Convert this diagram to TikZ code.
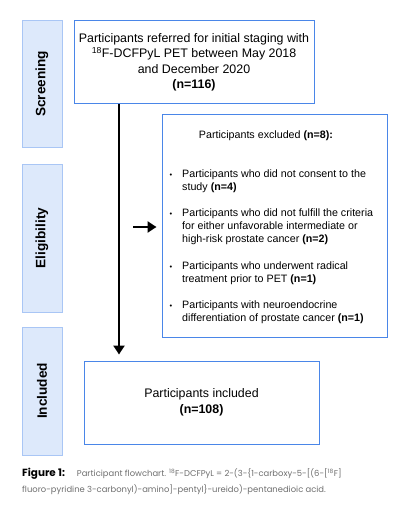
\documentclass[tikz,border=0pt]{standalone}
\usepackage{fontspec}
\setmainfont{Liberation Sans}
\newfontfamily\capfont{Poppins}
\usetikzlibrary{arrows.meta,positioning}
\definecolor{sidefill}{HTML}{DDE9FB}
\definecolor{sidedraw}{HTML}{A9C6F5}
\definecolor{boxdraw}{HTML}{4A86E8}
\definecolor{capgray}{HTML}{6E6E6E}
\tikzset{%
  >={Triangle[length=9pt,width=11pt]}, % option for heavy arrows
  phase/.style={draw=sidedraw,fill=sidefill,line width=1pt,rotate=90,
    minimum height=40pt,inner sep=0pt,
    font=\fontsize{13.6}{15}\selectfont\bfseries},%
  stage/.style={draw=boxdraw,line width=1pt,inner sep=0pt,align=center,
    font=\fontsize{12.4}{15.5}\selectfont},%
  item/.style={anchor=base west,align=left,inner sep=0pt,
    font=\fontsize{10.7}{13}\selectfont},%
  flow/.style={line width=2.6pt,->}%
}

\begin{document}
\begin{tikzpicture}[x=1pt,y=-1pt]

%% frame of the page

\useasboundingbox (0,0) rectangle (407,516);

%% phases on the left

\node[phase,minimum width=126] (screening) at (42,84) {Screening};
\node[phase,minimum width=148] (eligibility) at (42,238) {Eligibility};
\node[phase,minimum width=128] (included) at (42,391) {Included};

%% boxes of the flow

\node[stage,minimum width=240,minimum height=83] (referred) at (194,62.5)
  {Participants referred for initial staging with\\
   \textsuperscript{18}F-DCFPyL PET between May 2018\\
   and December 2020\\ \textbf{(n=116)}};
\node[stage,minimum width=225,minimum height=222] (excl) at (274.5,226) {};
\node[stage,minimum width=235,minimum height=83] (incl) at (201.5,402.5)
  {Participants included\\ \textbf{(n=108)}};

%% content of the exclusion box

\node[item,anchor=base] (exclhead) at (266,138.5)
  {Participants excluded \textbf{(n=8):}};
\foreach \i/\y/\n/\txt in {%
  1/177.5/2/{Participants who did not consent to the\\ study \textbf{(n=4)}},
  2/216.5/3/{Participants who did not fulfill the criteria\\ for either
    unfavorable intermediate or\\ high-risk prostate cancer \textbf{(n=2)}},
  3/269.5/2/{Participants who underwent radical\\ treatment prior to PET
    \textbf{(n=1)}},
  4/308.5/2/{Participants with neuroendocrine\\ differentiation of prostate
    cancer \textbf{(n=1)}}}
{
  \pgfmathsetmacro\ylast{\y+13*(\n-1)} % base anchor sits on the last line
  \node[item] (dot\i) at (169.5,\y) {\scalebox{0.7}{•}};
  \node[item] (reason\i) at (182,\ylast) {\txt};
}

%% connectors

\coordinate (trunk) at (119,0);
\coordinate (branch) at (133,227);
\draw[flow,shorten >=6pt] (referred.south -| trunk) -- (incl.north -| trunk);
\draw[flow,shorten >=5pt] (branch) -- (excl.west |- branch);

%% caption

\node[anchor=base west,align=left,inner sep=0pt,text=capgray,
  font=\capfont\fontsize{8.4}{16}\selectfont] (caption) at (22,492)
  {{\color{black}\fontsize{10.4}{16}\selectfont\bfseries Figure 1:}\hspace{12pt}Participant
   flowchart. \textsuperscript{18}F-DCFPyL = 2-(3-\{1-carboxy-5-[(6-[\textsuperscript{18}F]\\
   fluoro-pyridine 3-carbonyl)-amino]-pentyl\}-ureido)-pentanedioic acid.};

\end{tikzpicture}
\end{document}
